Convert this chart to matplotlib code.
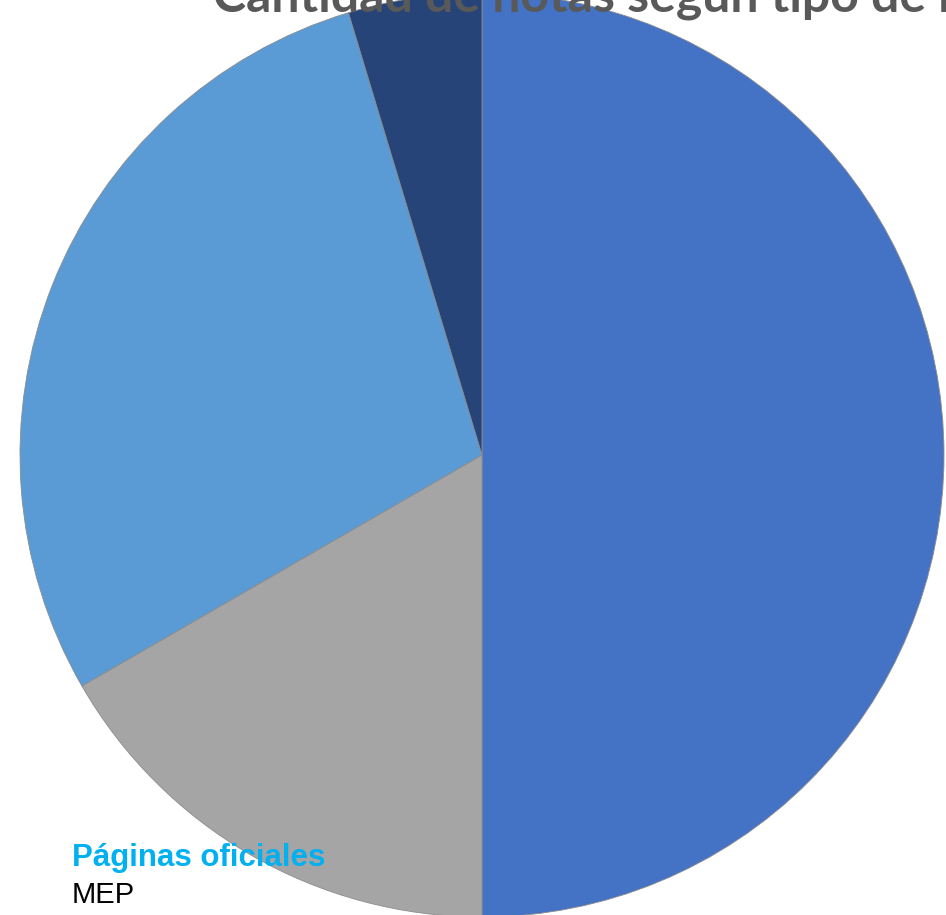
import matplotlib.pyplot as plt

# cantidad de notas por tipo de medio
labels = ["Medio A", "Medio B", "Medio C", "Medio D"]
values = [75, 25, 43, 7]
colors = ["#4472C4", "#A5A5A5", "#5B9BD5", "#264478"]

W, H = 946, 915
fig = plt.figure(figsize=(W / 100, H / 100), dpi=100)
ax = fig.add_axes([0, 0, 1, 1])

ax.pie(values, colors=colors, startangle=90, counterclock=False,
       center=(482, H - 455), radius=462,
       wedgeprops=dict(edgecolor="#8c8c8c", linewidth=0.6))

# pie() resets the limits, so set them afterwards
ax.set_xlim(0, W)
ax.set_ylim(0, H)
ax.set_aspect("equal")
ax.axis("off")

# title, mostly cut off at the top of the image
fig.text(213 / W, 1 - 12 / H, "Cantidad de notas según tipo de medio",
         fontsize=36, fontweight="bold", color="#595959",
         family=["Lato", "DejaVu Sans"], ha="left", va="baseline")

fig.text(72 / W, 1 - 866 / H, "Páginas oficiales", fontsize=22.5,
         fontweight="bold", color="#00B0F0", family="Liberation Sans",
         ha="left", va="baseline")
fig.text(72 / W, 1 - 903 / H, "MEP", fontsize=21, color="black",
         family="Liberation Sans", ha="left", va="baseline")

fig.savefig("out.png", dpi=100)
